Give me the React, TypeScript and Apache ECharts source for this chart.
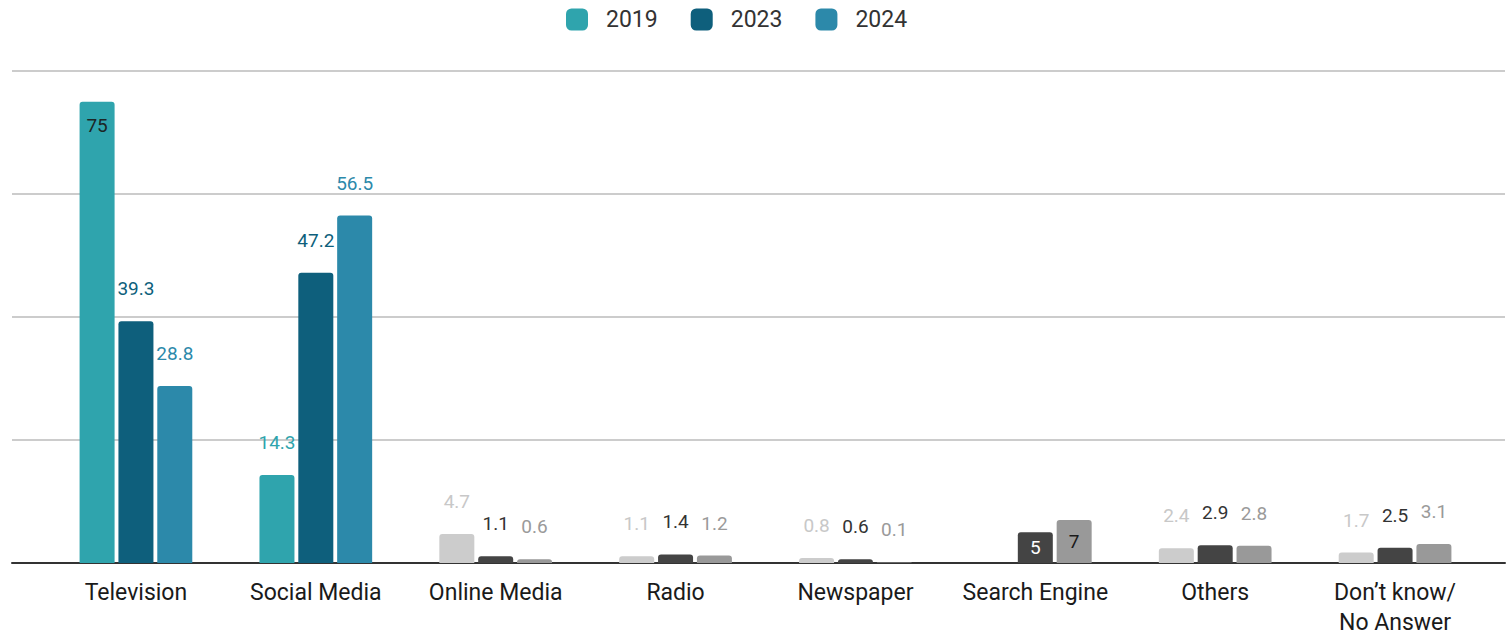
import React, { useEffect, useRef } from "react";
import * as echarts from "echarts";

const categories = [
  "Television",
  "Social Media",
  "Online Media",
  "Radio",
  "Newspaper",
  "Search Engine",
  "Others",
  "Don’t know/\nNo Answer",
];
const seriesNames = ["2019", "2023", "2024"];
const values2019 = [75, 14.3, 4.7, 1.1, 0.8, null, 2.4, 1.7];
const values2023 = [39.3, 47.2, 1.1, 1.4, 0.6, 5, 2.9, 2.5];
const values2024 = [28.8, 56.5, 0.6, 1.2, 0.1, 7, 2.8, 3.1];
const yTicks = [0, 20, 40, 60, 80];

const FONT = "Roboto, 'Noto Sans', sans-serif";
const mainColors = ["#2fa4ad", "#0e5f7c", "#2c89aa"];
const mainLabelColors = ["#2fa4ad", "#0e5f7c", "#2c89aa"];
const grayColors = ["#cccccc", "#444444", "#999999"];
const grayLabelColors = ["#c8c8c8", "#333333", "#9a9a9a"];
const highlighted = (ci: number) => ci < 2;

function buildData(vals: (number | null)[], si: number) {
  return vals.map((v, ci) => {
    if (v === null) return null;
    const hl = highlighted(ci);
    const item: any = {
      value: v,
      itemStyle: { color: hl ? mainColors[si] : grayColors[si] },
      label: { color: hl ? mainLabelColors[si] : grayLabelColors[si] },
    };
    if (si === 0 && ci === 0) {
      item.label = { position: "insideTop", distance: 14, color: "#1c2626" };
    }
    if (categories[ci] === "Search Engine") {
      item.label = {
        position: "inside",
        distance: 0,
        color: si === 1 ? "#ffffff" : "#1a1a1a",
      };
    }
    return item;
  });
}

export default function App() {
  const ref = useRef<HTMLDivElement>(null);
  useEffect(() => {
    document.body.style.margin = "0";
    const chart = echarts.init(ref.current!, null, { renderer: "svg" });
    const allVals = [values2019, values2023, values2024];
    chart.setOption({
      animation: false,
      backgroundColor: "#ffffff",
      legend: {
        data: seriesNames,
        top: 8,
        left: 566,
        padding: 0,
        itemWidth: 22,
        itemHeight: 22,
        itemGap: 33,
        icon: "roundRect",
        textStyle: {
          fontFamily: FONT,
          fontSize: 23,
          color: "#333333",
          padding: [0, 0, 0, 13],
        },
      },
      grid: [
        { left: 12, right: 1, top: 71, bottom: 72, containLabel: false, outerBoundsMode: "none" },
        { left: 46, right: 21, top: 71, bottom: 72, containLabel: false, outerBoundsMode: "none" },
      ],
      xAxis: [
        {
          gridIndex: 0,
          type: "value",
          min: 0,
          max: 1,
          show: true,
          axisLine: { show: true, onZero: false, lineStyle: { color: "#333333", width: 2 } },
          axisTick: { show: false },
          axisLabel: { show: false },
          splitLine: { show: false },
        },
        {
          gridIndex: 1,
          type: "category",
          data: categories,
          axisLine: { show: false },
          axisTick: { show: false },
          axisLabel: {
            fontFamily: FONT,
            fontSize: 23,
            color: "#1a1a1a",
            margin: 14,
            lineHeight: 30,
            interval: 0,
          },
        },
      ],
      yAxis: [
        {
          gridIndex: 0,
          type: "value",
          min: yTicks[0],
          max: yTicks[yTicks.length - 1],
          interval: yTicks[1] - yTicks[0],
          axisLine: { show: false },
          axisTick: { show: false },
          axisLabel: { show: false },
          splitLine: { show: true, lineStyle: { color: "#cccccc", width: 2 } },
        },
        {
          gridIndex: 1,
          type: "value",
          min: yTicks[0],
          max: yTicks[yTicks.length - 1],
          interval: yTicks[1] - yTicks[0],
          axisLine: { show: false },
          axisTick: { show: false },
          axisLabel: { show: false },
          splitLine: { show: false },
        },
      ],
      series: seriesNames.map((name, si) => ({
        name,
        type: "bar",
        xAxisIndex: 1,
        yAxisIndex: 1,
        barWidth: 35,
        barGap: "11%",
        itemStyle: { color: mainColors[si], borderRadius: [3, 3, 0, 0] },
        label: {
          show: true,
          position: "top",
          distance: 23,
          fontFamily: FONT,
          fontSize: 19,
        },
        data: buildData(allVals[si], si),
      })),
    });
    return () => chart.dispose();
  }, []);
  return <div ref={ref} style={{ width: 1506, height: 635 }} />;
}
